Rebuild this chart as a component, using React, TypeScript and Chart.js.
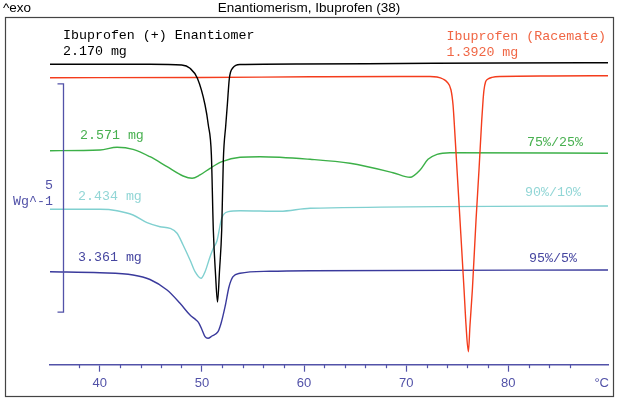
import { useEffect, useRef } from 'react';
import Chart from 'chart.js/auto';

// temperatures in °C, heat flow in W/g (curves are offset, 5 W/g = scale bar)
const enantiomerTemps = [35.13, 44.92, 48.03, 48.84, 49.56, 50.31, 50.63, 50.93, 51.12, 51.34, 51.53, 51.73, 51.94, 52.10, 52.34, 52.49, 52.69, 53.02, 53.74, 59.61, 69.40, 79.19, 89.76];
const enantiomerFlow = [6.579, 6.581, 6.564, 6.492, 6.272, 5.688, 5.250, 4.593, 2.950, 1.965, 1.373, 2.074, 2.950, 4.483, 5.250, 5.688, 6.272, 6.498, 6.575, 6.586, 6.597, 6.608, 6.614];

const racemateTemps = [35.13, 49.82, 60.59, 69.40, 72.34, 73.02, 73.61, 74.00, 74.39, 74.59, 74.69, 74.98, 75.27, 75.67, 75.86, 76.09, 76.25, 76.48, 76.84, 77.13, 77.40, 77.53, 77.62, 77.77, 78.01, 78.41, 79.19, 84.08, 89.76];
const racemateFlow = [6.286, 6.290, 6.305, 6.312, 6.312, 6.301, 6.257, 6.191, 6.016, 5.688, 5.359, 4.264, 3.169, 1.636, 0.869, 0.285, 0.869, 1.636, 3.169, 4.264, 5.359, 5.797, 6.016, 6.191, 6.257, 6.294, 6.312, 6.323, 6.329];

const mix75Temps = [35.13, 40.03, 41.69, 43.26, 44.92, 46.59, 48.16, 49.04, 49.82, 50.80, 51.97, 53.74, 55.69, 60.59, 64.50, 68.71, 70.38, 71.36, 72.14, 73.02, 74.29, 89.76];
const mix75Flow = [4.687, 4.702, 4.761, 4.717, 4.555, 4.336, 4.133, 4.082, 4.155, 4.301, 4.446, 4.542, 4.555, 4.498, 4.411, 4.205, 4.104, 4.264, 4.498, 4.608, 4.643, 4.630];

const mix90Temps = [35.13, 40.03, 41.69, 43.26, 44.63, 45.90, 46.88, 47.57, 48.16, 48.84, 49.33, 49.92, 50.31, 50.80, 51.12, 51.48, 51.94, 52.59, 53.74, 57.65, 60.59, 89.76];
const mix90Flow = [3.403, 3.403, 3.373, 3.279, 3.110, 3.022, 2.987, 2.878, 2.622, 2.293, 2.037, 1.892, 2.037, 2.365, 2.549, 2.716, 3.206, 3.351, 3.373, 3.360, 3.425, 3.476];

const mix95Temps = [35.13, 40.03, 43.26, 44.92, 46.59, 47.86, 48.84, 49.43, 49.72, 50.02, 50.31, 50.60, 50.99, 51.58, 51.88, 52.27, 52.66, 53.05, 53.74, 56.67, 60.59, 89.76];
const mix95Flow = [2.037, 2.015, 1.965, 1.866, 1.636, 1.345, 1.088, 0.979, 0.907, 0.760, 0.613, 0.578, 0.629, 0.723, 0.907, 1.270, 1.708, 1.927, 2.002, 2.046, 2.059, 2.074];

const majorTicks = [40, 50, 60, 70, 80];
const scaleBarTemp = 36.41;
const scaleBarLow = 1.15;
const scaleBarHigh = 6.15;

const AXIS_COLOR = '#5252a8';
const MONO = '13.3px "Liberation Mono", "DejaVu Sans Mono", monospace';
const SANS = '13.5px "Liberation Sans", Arial, sans-serif';

const toPoints = (xs: number[], ys: number[]) => xs.map((x, i) => ({ x, y: ys[i] }));

const isWhole = (v: number) => Math.abs(v - Math.round(v)) < 1e-6;

const decorations = {
    id: 'decorations',
    afterDraw(chart: any) {
        const { ctx, scales: { x, y } } = chart;
        ctx.save();

        // outer frame
        ctx.strokeStyle = '#444';
        ctx.lineWidth = 1.2;
        ctx.strokeRect(5.5, 17.5, 608, 379);

        // header
        ctx.fillStyle = '#000';
        ctx.font = SANS;
        ctx.textBaseline = 'middle';
        ctx.textAlign = 'left';
        ctx.fillText('^exo', 3, 8);
        ctx.textAlign = 'center';
        ctx.fillText('Enantiomerism, Ibuprofen (38)', 309, 8);

        // minor ticks
        ctx.strokeStyle = AXIS_COLOR;
        ctx.lineWidth = 1.2;
        const base = x.top;
        x.ticks.forEach((t: any) => {
            const v = t.value;
            if (isWhole(v) && Math.round(v) % 2 === 0 && Math.round(v) % 10 !== 0) {
                const px = Math.round(x.getPixelForValue(v)) + 0.5;
                ctx.beginPath();
                ctx.moveTo(px, base);
                ctx.lineTo(px, base + 3.5);
                ctx.stroke();
            }
        });

        // unit at axis end
        ctx.fillStyle = AXIS_COLOR;
        ctx.font = '13px "Liberation Sans", Arial, sans-serif';
        ctx.textAlign = 'right';
        ctx.fillText('°C', 609, 383);

        // scale bar
        const bx = Math.round(x.getPixelForValue(scaleBarTemp)) + 0.5;
        const by1 = y.getPixelForValue(scaleBarHigh);
        const by2 = y.getPixelForValue(scaleBarLow);
        ctx.lineWidth = 1.3;
        ctx.beginPath();
        ctx.moveTo(bx - 6, by1);
        ctx.lineTo(bx, by1);
        ctx.lineTo(bx, by2);
        ctx.lineTo(bx - 6, by2);
        ctx.stroke();
        ctx.font = MONO;
        ctx.textAlign = 'right';
        ctx.fillText('5', 53, 185);
        ctx.fillText('Wg^-1', 53, 201);

        // curve annotations
        ctx.textAlign = 'left';
        const label = (text: string, color: string, lx: number, ly: number) => {
            ctx.fillStyle = color;
            ctx.fillText(text, lx, ly);
        };
        label('Ibuprofen (+) Enantiomer', '#000', 63, 35);
        label('2.170 mg', '#000', 63, 51.5);
        label('Ibuprofen (Racemate)', '#f06644', 446.5, 36);
        label('1.3920 mg', '#f06644', 446.5, 52);
        label('2.571 mg', '#48b050', 80, 135.5);
        label('75%/25%', '#48b050', 527, 142.5);
        label('2.434 mg', '#92d6d6', 78, 196);
        label('90%/10%', '#92d6d6', 525, 192.5);
        label('3.361 mg', '#4646a0', 78, 257.5);
        label('95%/5%', '#4646a0', 529, 258);

        ctx.restore();
    }
};

const DscChart = () => {
    const chartRef = useRef<HTMLCanvasElement>(null);

    useEffect(() => {
        const ctx = chartRef.current!.getContext('2d')!;
        const line = (label: string, xs: number[], ys: number[], color: string) => ({
            label,
            data: toPoints(xs, ys),
            borderColor: color,
            borderWidth: 1.4,
            pointRadius: 0,
            fill: false,
            cubicInterpolationMode: 'monotone' as const
        });
        const chart = new Chart(ctx, {
            type: 'line',
            data: {
                datasets: [
                    line('Ibuprofen (+) Enantiomer', enantiomerTemps, enantiomerFlow, '#000000'),
                    line('Ibuprofen (Racemate)', racemateTemps, racemateFlow, '#f43c1c'),
                    line('75%/25%', mix75Temps, mix75Flow, '#3cb048'),
                    line('90%/10%', mix90Temps, mix90Flow, '#80d0d0'),
                    line('95%/5%', mix95Temps, mix95Flow, '#3a3a9c')
                ]
            },
            options: {
                responsive: false,
                animation: false,
                layout: {
                    padding: { left: 50, right: 9.7, top: 17, bottom: 5.7 }
                },
                plugins: {
                    legend: { display: false },
                    tooltip: { enabled: false }
                },
                scales: {
                    x: {
                        type: 'linear',
                        min: 35.13,
                        max: 89.79,
                        border: {
                            display: true,
                            color: AXIS_COLOR,
                            width: 1.5
                        },
                        grid: {
                            display: true,
                            drawOnChartArea: false,
                            drawTicks: true,
                            tickLength: 7,
                            tickWidth: 1.2,
                            tickColor: (c: any) => {
                                const v = c.tick ? c.tick.value : NaN;
                                return isWhole(v) && majorTicks.includes(Math.round(v)) ? AXIS_COLOR : 'rgba(0,0,0,0)';
                            }
                        },
                        ticks: {
                            stepSize: 2,
                            autoSkip: false,
                            maxRotation: 0,
                            padding: 4,
                            color: AXIS_COLOR,
                            font: {
                                family: '"Liberation Sans", Arial, sans-serif',
                                size: 13
                            },
                            callback: (value: any) => {
                                const v = Number(value);
                                return isWhole(v) && majorTicks.includes(Math.round(v)) ? String(Math.round(v)) : '';
                            }
                        }
                    },
                    y: {
                        type: 'linear',
                        display: false,
                        min: 0,
                        max: 7.615
                    }
                }
            },
            plugins: [decorations]
        });

        return () => {
            chart.destroy();
        };
    }, []);

    return <canvas ref={chartRef} width={618} height={401}></canvas>;
};

export default function App() {
    return (
        <div style={{ position: 'fixed', left: 0, top: 0, width: 618, height: 401, background: '#fff' }}>
            <DscChart />
        </div>
    );
}
